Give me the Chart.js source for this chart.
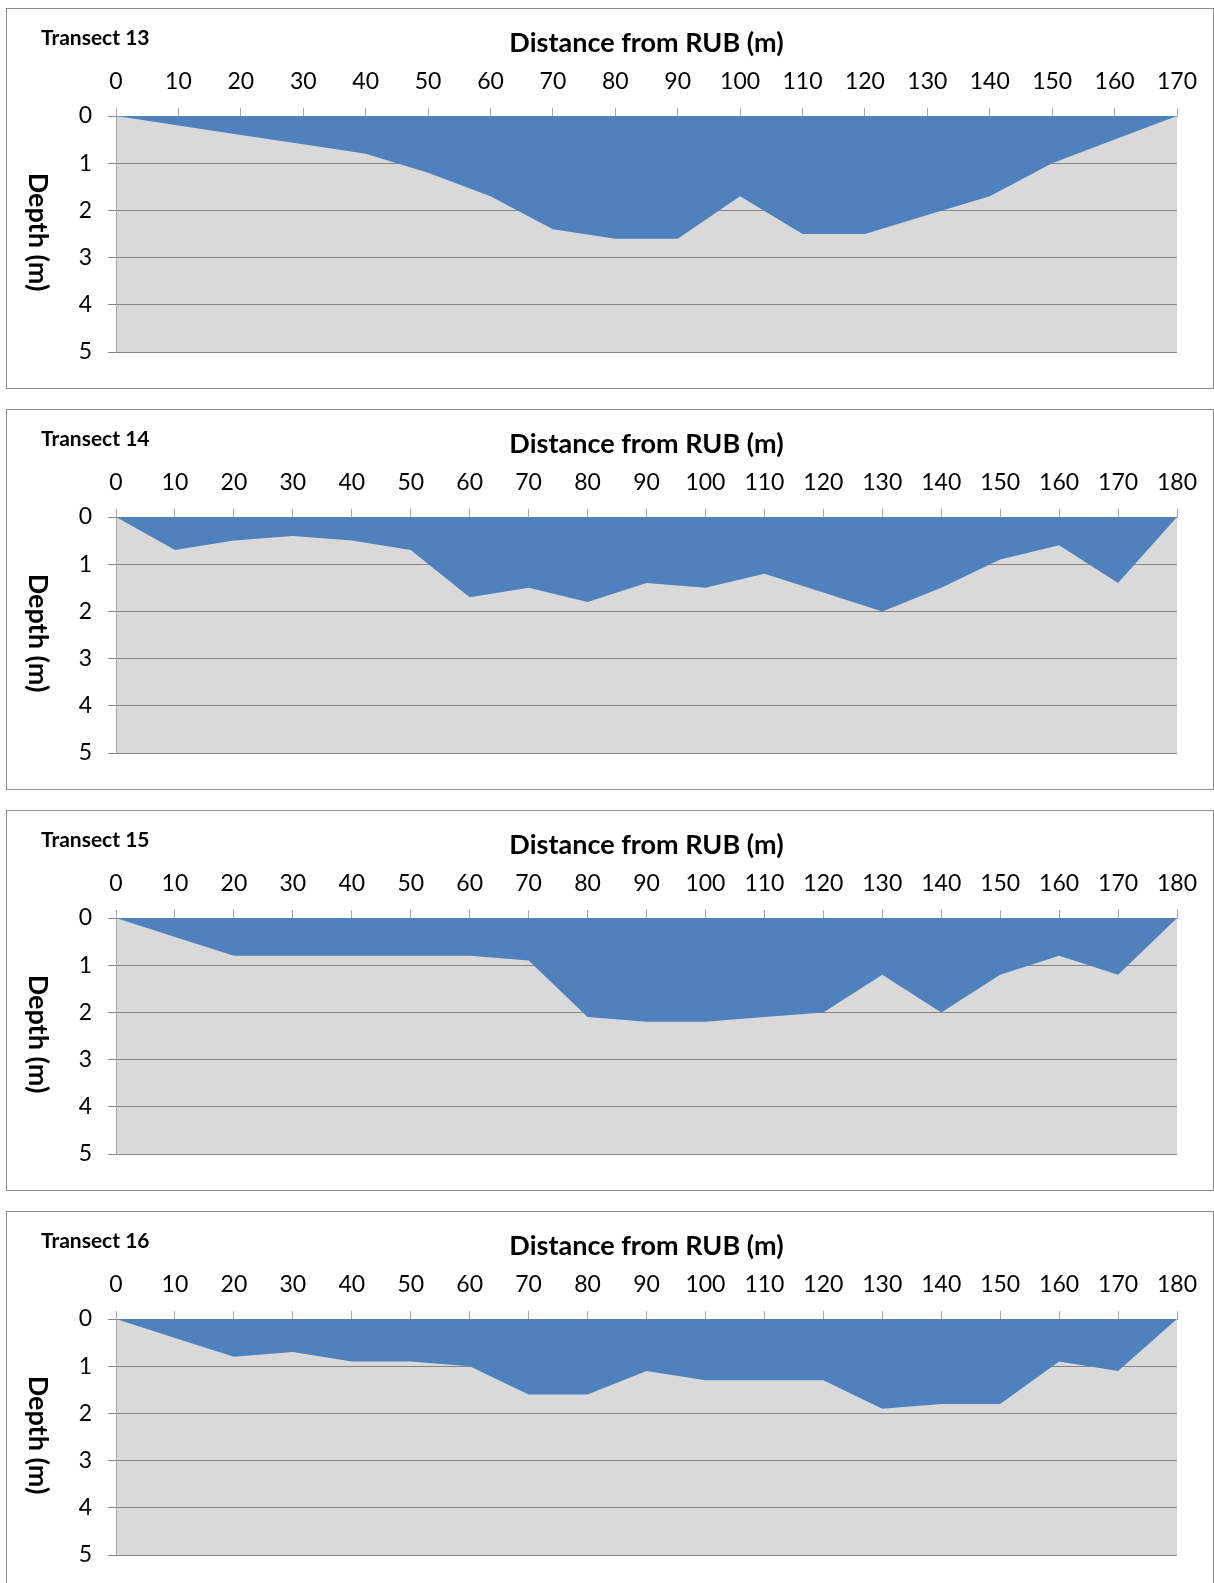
<!DOCTYPE html>
<html>
<head>
<meta charset="utf-8">
<title>Transects 13-16</title>
<script src="https://cdn.jsdelivr.net/npm/chart.js@4.4.1/dist/chart.umd.min.js"></script>
<style>
  html, body { margin: 0; padding: 0; background: #fff; }
  body { width: 1214px; height: 1583px; position: relative; overflow: hidden; }
  .panel {
    position: absolute;
    left: 6px;
    width: 1206px;
    height: 379px;
    border: 1px solid #8c8c8c;
    background: #fff;
  }
  .panel canvas { display: block; }
</style>
</head>
<body>

<div class="panel" style="top:8px"><canvas id="t13" width="1206" height="379"></canvas></div>
<div class="panel" style="top:409px"><canvas id="t14" width="1206" height="379"></canvas></div>
<div class="panel" style="top:810px"><canvas id="t15" width="1206" height="379"></canvas></div>
<div class="panel" style="top:1211px"><canvas id="t16" width="1206" height="379"></canvas></div>

<script>
/* ── Data (distance in m, depth in m) ── */
const dist13  = [0, 10, 20, 30, 40, 50, 60, 70, 80, 90, 100, 110, 120, 130, 140, 150, 160, 170];
const depth13 = [0, 0.2, 0.4, 0.6, 0.8, 1.2, 1.7, 2.4, 2.6, 2.6, 1.7, 2.5, 2.5, 2.1, 1.7, 1.0, 0.5, 0];

const dist14  = [0, 10, 20, 30, 40, 50, 60, 70, 80, 90, 100, 110, 120, 130, 140, 150, 160, 170, 180];
const depth14 = [0, 0.7, 0.5, 0.4, 0.5, 0.7, 1.7, 1.5, 1.8, 1.4, 1.5, 1.2, 1.6, 2.0, 1.5, 0.9, 0.6, 1.4, 0];

const dist15  = [0, 10, 20, 30, 40, 50, 60, 70, 80, 90, 100, 110, 120, 130, 140, 150, 160, 170, 180];
const depth15 = [0, 0.4, 0.8, 0.8, 0.8, 0.8, 0.8, 0.9, 2.1, 2.2, 2.2, 2.1, 2.0, 1.2, 2.0, 1.2, 0.8, 1.2, 0];

const dist16  = [0, 10, 20, 30, 40, 50, 60, 70, 80, 90, 100, 110, 120, 130, 140, 150, 160, 170, 180];
const depth16 = [0, 0.4, 0.8, 0.7, 0.9, 0.9, 1.0, 1.6, 1.6, 1.1, 1.3, 1.3, 1.3, 1.9, 1.8, 1.8, 0.9, 1.1, 0];

const depthTicks = [0, 1, 2, 3, 4, 5];

/* ── Styles ── */
const WATER    = '#4f81bd';
const PLOT_BG  = '#d9d9d9';
const GRID     = '#868686';
const AXIS     = '#a6a6a6';
const FONT     = "Lato, 'Open Sans', sans-serif";

/* ── Plot background + panel labels ── */
const panelDecor = {
  id: 'panelDecor',
  beforeDraw(chart) {
    const { ctx, chartArea: a } = chart;
    ctx.save();
    ctx.fillStyle = PLOT_BG;
    ctx.fillRect(a.left, a.top, a.right - a.left, a.bottom - a.top);
    ctx.restore();
  },
  afterDraw(chart, args, opts) {
    const ctx = chart.ctx;
    ctx.save();
    ctx.fillStyle = '#000';
    ctx.textBaseline = 'middle';
    ctx.font = 'bold 21px ' + FONT;
    ctx.fillText(opts.title, 34, 29);

    // Excel style title rotated clockwise, reading downwards
    ctx.translate(31, 223);
    ctx.rotate(Math.PI / 2);
    ctx.textAlign = 'center';
    ctx.font = 'bold 27px ' + FONT;
    ctx.fillText('Depth (m)', 0, 0);
    ctx.restore();
  }
};

function makeTransect(id, title, dist, depth, xMax) {
  const points = dist.map((d, i) => ({ x: d, y: depth[i] }));

  return new Chart(document.getElementById(id), {
    type: 'line',
    data: {
      datasets: [{
        data: points,
        fill: 'origin',
        backgroundColor: WATER,
        borderColor: 'transparent',
        borderWidth: 0,
        pointRadius: 0,
        tension: 0,
      }]
    },
    options: {
      responsive: false,
      animation: false,
      events: [],
      layout: { padding: { left: 0, top: 0, right: 36, bottom: 36 } },
      plugins: {
        legend: { display: false },
        tooltip: { enabled: false },
        panelDecor: { title: title },
      },
      scales: {
        x: {
          type: 'linear',
          position: 'top',
          min: 0,
          max: xMax,
          afterFit: s => { s.height = 107; },
          grid: { drawOnChartArea: false, color: AXIS, tickLength: 8 },
          border: { color: AXIS },
          ticks: { stepSize: 10, color: '#000', padding: 13, font: { size: 23, family: FONT }, maxRotation: 0, autoSkip: false },
          title: {
            display: true,
            text: 'Distance from RUB (m)',
            color: '#000',
            font: { size: 27, weight: 'bold', family: FONT },
            padding: { top: 18, bottom: 0 }
          }
        },
        y: {
          min: depthTicks[0],
          max: depthTicks[depthTicks.length - 1],
          reverse: true,
          afterFit: s => { s.width = 109; },
          afterBuildTicks: s => { s.ticks = depthTicks.map(v => ({ value: v })); },
          grid: { color: GRID, tickLength: 8 },
          border: { color: AXIS },
          ticks: { color: '#000', padding: 16, font: { size: 23, family: FONT } }
        }
      }
    },
    plugins: [panelDecor]
  });
}

makeTransect('t13', 'Transect 13', dist13, depth13, 170);
makeTransect('t14', 'Transect 14', dist14, depth14, 180);
makeTransect('t15', 'Transect 15', dist15, depth15, 180);
makeTransect('t16', 'Transect 16', dist16, depth16, 180);
</script>
</body>
</html>
